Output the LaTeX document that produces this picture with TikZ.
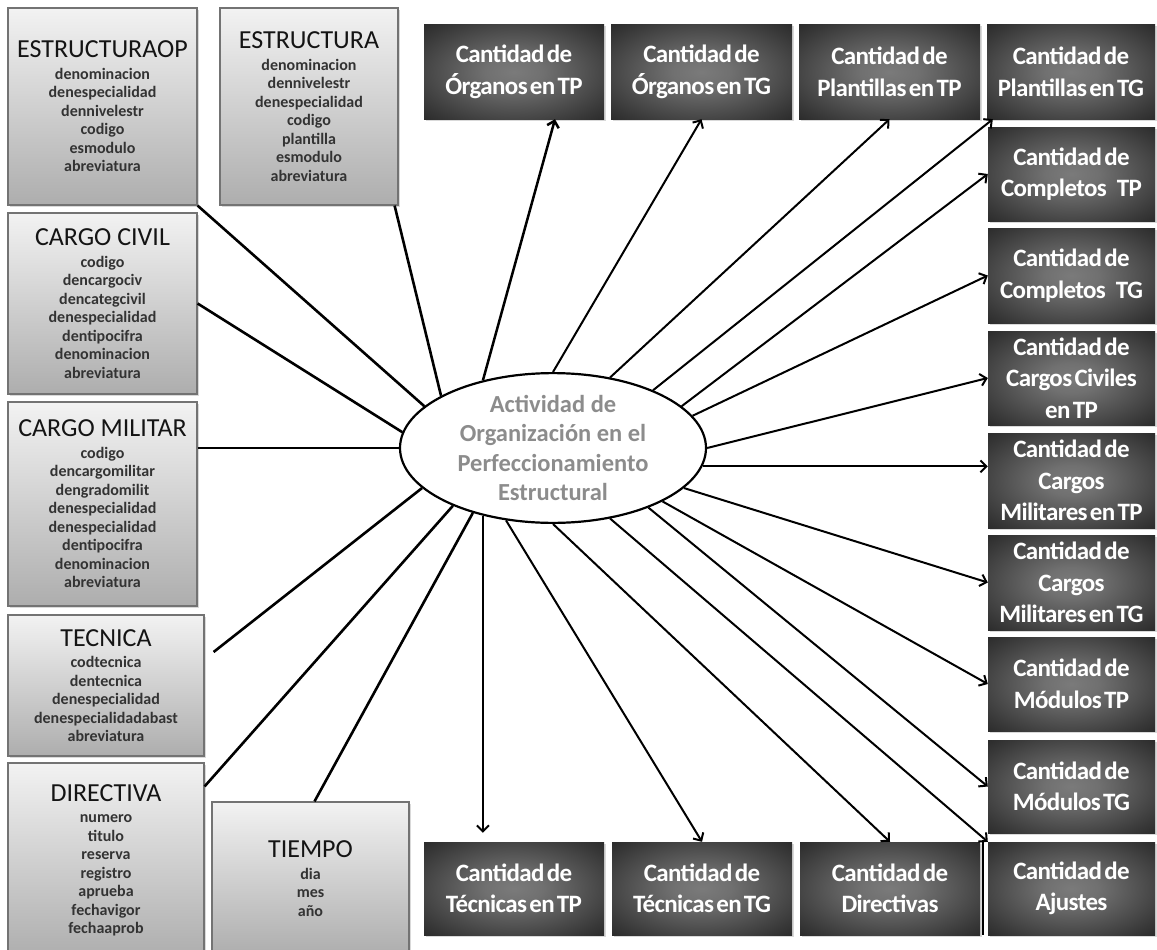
\documentclass[tikz,border=0pt]{standalone}
\usepackage{fontspec}
\setmainfont{Carlito}
% tight setting used inside the dark metric boxes
\newfontfamily\metricfont{Carlito}[LetterSpace=-2.5, WordSpace=0.45]
\usetikzlibrary{arrows.meta,calc,shadows,shapes.geometric}

\definecolor{attrink}{HTML}{333333}
\definecolor{titleink}{HTML}{141414}
\definecolor{centerink}{HTML}{8C8C8C}

% dark "glow" fill of the metric boxes: lighter centre, black rim
\pgfdeclareradialshading{boxglow}{\pgfpoint{0bp}{0bp}}{%
  color(0bp)=(black!52); color(8bp)=(black!56); color(30bp)=(black!78); color(50bp)=(black!96)}

\newcommand\tabtitle[1]{{\mdseries\color{titleink}\fontsize{26}{26}\selectfont #1}}

\tikzset{
  tablebox/.style={draw=black!55, line width=1.2pt, top color=black!5, bottom color=black!32,
    drop shadow={shadow xshift=2pt, shadow yshift=-2pt, opacity=0.3},
    align=center, inner sep=0pt, text=attrink,
    font=\bfseries\fontsize{16}{18.5}\selectfont},
  metricbox/.style={shading=boxglow, draw=none,
    drop shadow={shadow xshift=1.5pt, shadow yshift=-1.5pt, opacity=0.3},
    align=center, inner sep=0pt, text=white,
    font=\metricfont\bfseries\fontsize{25}{31.5}\selectfont},
  feed/.style={line width=2.6pt, black},
  yields/.style={line width=2pt, black, -{Straight Barb[length=6pt,width=12pt]}},
}

\begin{document}
\begin{tikzpicture}[x=1pt,y=-1pt]
\useasboundingbox (0,0) rectangle (1157,950);

% ---------- source tables ----------
\node[tablebox, minimum width=189pt, minimum height=197pt] (eop) at (102.5,106.5)
  {\tabtitle{ESTRUCTURAOP}\\[3pt] denominacion\\ denespecialidad\\ dennivelestr\\ codigo\\ esmodulo\\ abreviatura};
\node[tablebox, minimum width=178pt, minimum height=197pt] (est) at (309,106.5)
  {\tabtitle{ESTRUCTURA}\\[3pt] denominacion\\ dennivelestr\\ denespecialidad\\ codigo\\ plantilla\\ esmodulo\\ abreviatura};
\node[tablebox, minimum width=189pt, minimum height=181pt] (cc) at (102.5,303.5)
  {\tabtitle{CARGO CIVIL}\\[3pt] codigo\\ dencargociv\\ dencategcivil\\ denespecialidad\\ dentipocifra\\ denominacion\\ abreviatura};
\node[tablebox, minimum width=189pt, minimum height=204pt] (cm) at (102.5,504)
  {\tabtitle{CARGO MILITAR}\\[3pt] codigo\\ dencargomilitar\\ dengradomilit\\ denespecialidad\\ denespecialidad\\ dentipocifra\\ denominacion\\ abreviatura};
\node[tablebox, minimum width=196pt, minimum height=141pt] (tec) at (106,685.5)
  {\tabtitle{TECNICA}\\[3pt] codtecnica\\ dentecnica\\ denespecialidad\\ denespecialidadabast\\ abreviatura};
\node[tablebox, minimum width=196pt, minimum height=195pt] (dir) at (106,860.5)
  {\tabtitle{DIRECTIVA}\\[3pt] numero\\ titulo\\ reserva\\ registro\\ aprueba\\ fechavigor\\ fechaaprob};
\node[tablebox, minimum width=197pt, minimum height=153pt] (tie) at (310.5,878.5)
  {\tabtitle{TIEMPO}\\[3pt] dia\\ mes\\ año};

% ---------- central activity ----------
\node[ellipse, draw, line width=2.2pt, fill=white, minimum width=306pt, minimum height=140pt,
  inner sep=0pt, align=center, text=centerink, font=\bfseries\fontsize{24.5}{29.5}\selectfont]
  (act) at (553,448) {Actividad de\\Organización en el\\Perfeccionamiento\\Estructural};

% ---------- metrics: top row ----------
\node[metricbox, minimum width=180pt, minimum height=94pt] (otp) at (514,72) {Cantidad de\\Órganos en TP};
\node[metricbox, minimum width=181pt, minimum height=94pt] (otg) at (701.5,72) {Cantidad de\\Órganos en TG};
\node[metricbox, minimum width=181pt, minimum height=94pt] (ptp) at (889.5,72) {Cantidad de\\Plantillas en TP};
\node[metricbox, minimum width=168pt, minimum height=94pt] (ptg) at (1071,72) {Cantidad de\\Plantillas en TG};

% ---------- metrics: right column ----------
\node[metricbox, minimum width=167pt, minimum height=94pt] (ctp) at (1071.5,174) {Cantidad de\\Completos\hspace{10pt}TP};
\node[metricbox, minimum width=167pt, minimum height=95pt] (ctg) at (1071.5,275.5) {Cantidad de\\Completos\hspace{10pt}TG};
\node[metricbox, minimum width=167pt, minimum height=94pt] (cctp) at (1071.5,378) {Cantidad de\\Cargos Civiles\\en TP};
\node[metricbox, minimum width=167pt, minimum height=95pt] (cmtp) at (1071.5,480.5) {Cantidad de\\Cargos\\Militares en TP};
\node[metricbox, minimum width=167pt, minimum height=95pt] (cmtg) at (1071.5,582.5) {Cantidad de\\Cargos\\Militares en TG};
\node[metricbox, minimum width=167pt, minimum height=94pt] (mtp) at (1071.5,684) {Cantidad de\\Módulos TP};
\node[metricbox, minimum width=167pt, minimum height=93pt] (mtg) at (1071.5,786.5) {Cantidad de\\Módulos TG};
\node[metricbox, minimum width=167pt, minimum height=93pt] (aj) at (1071.5,888.5) {Cantidad de\\Ajustes};

% ---------- metrics: bottom row ----------
\node[metricbox, minimum width=180pt, minimum height=93pt] (ttp) at (514,888.5) {Cantidad de\\Técnicas en TP};
\node[metricbox, minimum width=180pt, minimum height=93pt] (ttg) at (702,888.5) {Cantidad de\\Técnicas en TG};
\node[metricbox, minimum width=180pt, minimum height=93pt] (dirs) at (890,888.5) {Cantidad de\\Directivas};

% ---------- tables feeding the activity ----------
\draw[feed] (eop.south east) -- (act.162);
\draw[feed] ([xshift=-4pt]est.south east) -- (act.155);
\draw[feed] (cc.east) -- (act.174);
\draw[feed] (cm.east |- act.west) -- (act.west);
\draw[feed] ($(tec.east)+(9,-33.5)$) -- (act.197);
\draw[feed] ($(dir.north east)+(0,24)$) -- (act.210);
\draw[feed] ($(tie.north)+(4,0)$) -- (act.219);

% ---------- activity producing the metrics ----------
\draw[yields, line width=2.5pt] (act.136) -- ([xshift=41pt]otp.south);
\draw[yields] (act.north) -- (otg.south);
\draw[yields] (act.51) -- (ptp.south);
\draw[yields] (act.30) -- ([xshift=6pt]ptg.south west);
\draw[yields] (act.18) -- (ctp.west);
\draw[yields] (act.13) -- (ctg.west);
\draw[yields] (act.east) -- (cctp.west);
\draw[yields] (act.353) -- (act.353 -| cmtp.west);
\draw[yields] (act.343) -- (cmtg.west);
\draw[yields] (act.334) -- (mtp.west);
\draw[yields] (act.328) -- (mtg.west);
\draw[yields] (act.309) -- (aj.north west);
\draw[yields] (act.south) -- (dirs.north);
\draw[yields] (act.237) -- (ttg.north);
\draw[yields] (act.224) -- ($(act.224 |- ttp.north)+(0,-9)$);

% rule along the left side of the adjustments box
\draw[line width=1.5pt] ($(aj.north west)+(-5,0)$) -- ($(aj.south west)+(-5,0)$);
\end{tikzpicture}
\end{document}
